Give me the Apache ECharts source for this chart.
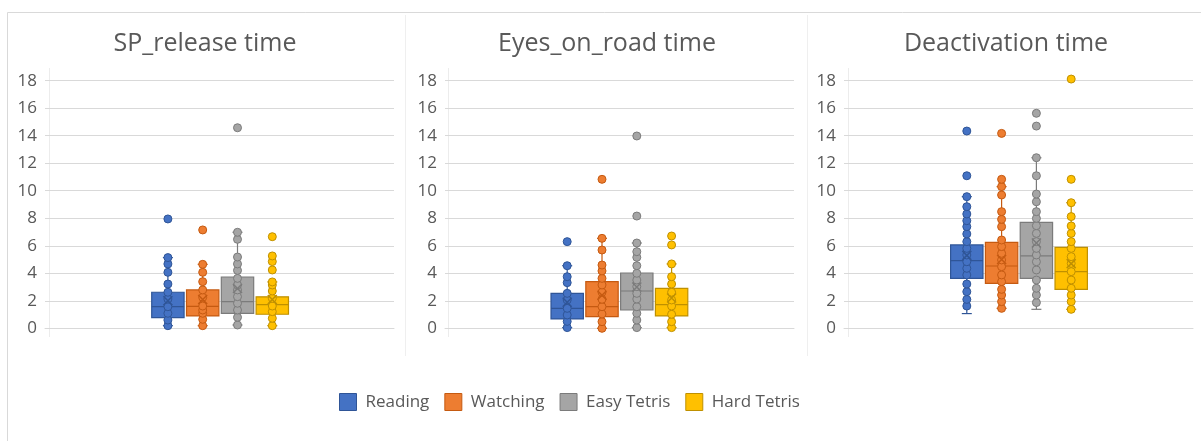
<!DOCTYPE html>
<html>
<head>
<meta charset="utf-8">
<title>Take-over times by secondary task</title>
<script src="https://cdn.jsdelivr.net/npm/echarts@6/dist/echarts.min.js"></script>
<style>
  html, body { margin: 0; padding: 0; background: #ffffff; }
  #chart { width: 1201px; height: 441px; }
</style>
</head>
<body>
<div id="chart"></div>
<script>
// Secondary-task conditions shown in every panel
const conditions = ['Reading', 'Watching', 'Easy Tetris', 'Hard Tetris'];
const panelTitles = ['SP_release time', 'Eyes_on_road time', 'Deactivation time'];
const yTicks = { min: 0, max: 18, interval: 2 };

// Box statistics per condition: [lower whisker, Q1, median, Q3, upper whisker] (s)
const spReleaseBoxes = [
  [0.19, 0.78, 1.57, 2.62, 5.14],
  [0.19, 0.90, 1.60, 2.79, 4.65],
  [0.24, 1.09, 1.94, 3.73, 6.98],
  [0.19, 1.02, 1.72, 2.29, 3.37]
];
const spReleaseMeans = [2.0, 2.1, 2.9, 2.1];
const spReleasePoints = [
  [0.19, 0.6, 1.09, 1.57, 2.13, 2.62, 3.22, 4.07, 4.68, 5.14, 7.95],
  [0.19, 0.65, 1.09, 1.33, 1.62, 2.25, 2.79, 3.39, 4.07, 4.65, 7.15],
  [0.24, 0.8, 1.33, 1.82, 2.3, 2.79, 3.15, 3.63, 4.21, 4.68, 5.18, 6.47, 6.98, 14.58],
  [0.19, 0.73, 1.21, 1.62, 2.18, 2.71, 3.15, 3.37, 4.24, 4.85, 5.26, 6.66]
];

const eyesOnRoadBoxes = [
  [0.05, 0.68, 1.45, 2.54, 4.55],
  [0.0, 0.85, 1.57, 3.39, 6.54],
  [0.05, 1.33, 2.71, 4.02, 6.2],
  [0.05, 0.9, 1.72, 2.9, 4.68]
];
const eyesOnRoadMeans = [1.9, 2.4, 3.0, 2.2];
const eyesOnRoadPoints = [
  [0.05, 0.5, 0.97, 1.45, 2.06, 2.54, 3.32, 3.75, 4.55, 6.3],
  [0.0, 0.48, 1.04, 1.57, 2.11, 2.62, 3.15, 3.63, 4.17, 4.6, 5.69, 6.54, 10.83],
  [0.05, 0.6, 1.09, 1.57, 2.13, 2.54, 3.03, 3.51, 4.0, 4.55, 5.16, 5.57, 6.2, 8.16, 13.98],
  [0.05, 0.48, 1.02, 1.62, 2.06, 2.62, 3.22, 3.75, 4.68, 6.06, 6.71]
];

const deactivationBoxes = [
  [1.07, 3.63, 4.92, 6.06, 9.57],
  [1.45, 3.27, 4.53, 6.25, 10.3],
  [1.38, 3.63, 5.26, 7.7, 12.4],
  [1.38, 2.83, 4.12, 5.89, 9.13]
];
const deactivationMeans = [5.3, 5.0, 6.2, 4.7];
const deactivationPoints = [
  [1.62, 2.1, 2.66, 3.22, 3.88, 4.36, 4.84, 5.33, 5.81, 6.3, 6.86, 7.39, 7.82, 8.31, 8.84, 9.57, 11.09, 14.34],
  [1.45, 1.94, 2.42, 2.83, 3.39, 3.88, 4.48, 4.97, 5.45, 5.94, 6.42, 7.39, 7.92, 8.48, 9.69, 10.3, 10.83, 14.17],
  [1.87, 2.42, 2.91, 3.51, 4.24, 4.84, 5.33, 5.81, 6.3, 6.9, 7.46, 7.99, 8.48, 9.2, 9.76, 11.09, 12.4, 14.7, 15.63],
  [1.38, 1.94, 2.42, 2.91, 3.51, 4.12, 4.72, 5.21, 5.81, 6.3, 6.9, 7.44, 8.12, 9.13, 10.83, 18.12]
];

const panels = [
  { title: panelTitles[0], boxes: spReleaseBoxes, means: spReleaseMeans, points: spReleasePoints },
  { title: panelTitles[1], boxes: eyesOnRoadBoxes, means: eyesOnRoadMeans, points: eyesOnRoadPoints },
  { title: panelTitles[2], boxes: deactivationBoxes, means: deactivationMeans, points: deactivationPoints }
];

// Styling and layout
const fillColors = ['#4472C4', '#ED7D31', '#A5A5A5', '#FFC000'];
const edgeColors = ['#2F5597', '#C55A11', '#7B7B7B', '#BF9000'];
const textColor = '#595959';
const gridColor = '#d9d9d9';
const plotTop = 80.7, plotHeight = 247.6;
const frameLeft = [45, 445, 844];
const frameWidth = 349;
const groupCenter = [220.1, 619.4, 1019.0];
const boxPitch = 34.8;
const titleCenter = [200, 602, 1001];
const xMarker = 'path://M0,0 L10,10 M10,0 L0,10';

function renderBox(params, api) {
  const c = api.value(0);
  const lo = api.coord([c, api.value(1)]);
  const q1 = api.coord([c, api.value(2)]);
  const md = api.coord([c, api.value(3)]);
  const q3 = api.coord([c, api.value(4)]);
  const hi = api.coord([c, api.value(5)]);
  const band = api.size([1, 0])[0];
  const half = band * 0.465;
  const cap = 5;
  const x = lo[0];
  const fill = api.style().fill;
  const edge = edgeColors[conditions.indexOf(params.seriesName)];
  const line = { stroke: edge, lineWidth: 1.2 };
  return {
    type: 'group',
    children: [
      { type: 'line', shape: { x1: x, y1: q3[1], x2: x, y2: hi[1] }, style: line },
      { type: 'line', shape: { x1: x, y1: q1[1], x2: x, y2: lo[1] }, style: line },
      { type: 'line', shape: { x1: x - cap, y1: hi[1], x2: x + cap, y2: hi[1] }, style: line },
      { type: 'line', shape: { x1: x - cap, y1: lo[1], x2: x + cap, y2: lo[1] }, style: line },
      { type: 'rect', shape: { x: x - half, y: q3[1], width: half * 2, height: q1[1] - q3[1] },
        style: { fill: fill, stroke: edge, lineWidth: 1.2 } },
      { type: 'line', shape: { x1: x - half, y1: md[1], x2: x + half, y2: md[1] }, style: line }
    ]
  };
}

const grid = [], xAxis = [], yAxis = [], title = [], series = [];

panels.forEach(function (panel, p) {
  // full-width frame carrying the value axis and gridlines
  grid.push({ left: frameLeft[p], width: frameWidth, top: plotTop, height: plotHeight });
  // narrow band holding the four boxes side by side
  grid.push({ left: groupCenter[p] - 2 * boxPitch, width: 4 * boxPitch, top: plotTop, height: plotHeight });

  xAxis.push({
    gridIndex: 2 * p, type: 'category', data: [''],
    axisLine: { lineStyle: { color: gridColor } },
    axisTick: { show: false }, axisLabel: { show: false }
  });
  xAxis.push({ gridIndex: 2 * p + 1, type: 'category', data: conditions, show: false });

  yAxis.push({
    gridIndex: 2 * p, type: 'value', min: yTicks.min, max: yTicks.max, interval: yTicks.interval,
    axisLine: { show: false }, axisTick: { show: false },
    axisLabel: { color: textColor, fontSize: 17, margin: 8, fontFamily: 'Open Sans' },
    splitLine: { lineStyle: { color: gridColor, width: 1 } }
  });
  yAxis.push({ gridIndex: 2 * p + 1, type: 'value', min: yTicks.min, max: yTicks.max, show: false });

  title.push({
    text: panel.title, left: titleCenter[p], top: 26, textAlign: 'center',
    textStyle: { color: textColor, fontSize: 25, fontWeight: 'normal', fontFamily: 'Open Sans' }
  });

  conditions.forEach(function (name, c) {
    series.push({
      type: 'custom', name: name, xAxisIndex: 2 * p + 1, yAxisIndex: 2 * p + 1,
      itemStyle: { color: fillColors[c] },
      data: [[c].concat(panel.boxes[c])],
      renderItem: renderBox, z: 2, clip: false
    });
    series.push({
      type: 'scatter', name: name, xAxisIndex: 2 * p + 1, yAxisIndex: 2 * p + 1,
      symbol: 'circle', symbolSize: 8, clip: false,
      itemStyle: { color: fillColors[c], borderColor: edgeColors[c], borderWidth: 1, opacity: 1 },
      data: panel.points[c].map(function (v) { return [c, v]; }), z: 3
    });
    series.push({
      type: 'scatter', name: name, xAxisIndex: 2 * p + 1, yAxisIndex: 2 * p + 1,
      symbol: xMarker, symbolSize: 9, clip: false,
      itemStyle: { color: 'rgba(0,0,0,0)', borderColor: edgeColors[c], borderWidth: 1.5, opacity: 1 },
      data: [[c, panel.means[c]]], z: 4
    });
  });
});

const option = {
  animation: false,
  backgroundColor: '#ffffff',
  title: title,
  grid: grid,
  xAxis: xAxis,
  yAxis: yAxis,
  legend: {
    left: 334, top: 388,
    itemWidth: 17, itemHeight: 17, itemGap: 15,
    textStyle: { color: textColor, fontSize: 17, fontFamily: 'Open Sans', padding: [0, 0, 0, 4] },
    data: conditions.map(function (name, c) {
      return { name: name, icon: 'rect',
        itemStyle: { color: fillColors[c], borderColor: edgeColors[c], borderWidth: 1 } };
    })
  },
  graphic: [
    { type: 'line', shape: { x1: 7.5, y1: 12.5, x2: 1201, y2: 12.5 }, style: { stroke: '#d9d9d9', lineWidth: 1 }, silent: true },
    { type: 'line', shape: { x1: 7.5, y1: 12.5, x2: 7.5, y2: 441 }, style: { stroke: '#d9d9d9', lineWidth: 1 }, silent: true },
    { type: 'line', shape: { x1: 405.5, y1: 15, x2: 405.5, y2: 356 }, style: { stroke: '#efefef', lineWidth: 1 }, silent: true },
    { type: 'line', shape: { x1: 807.5, y1: 15, x2: 807.5, y2: 356 }, style: { stroke: '#efefef', lineWidth: 1 }, silent: true },
    { type: 'line', shape: { x1: 49.5, y1: 68, x2: 49.5, y2: 337 }, style: { stroke: '#ececec', lineWidth: 1 }, silent: true },
    { type: 'line', shape: { x1: 448.5, y1: 68, x2: 448.5, y2: 337 }, style: { stroke: '#ececec', lineWidth: 1 }, silent: true },
    { type: 'line', shape: { x1: 848.5, y1: 68, x2: 848.5, y2: 337 }, style: { stroke: '#ececec', lineWidth: 1 }, silent: true }
  ],
  series: series
};

const chart = echarts.init(document.getElementById('chart'), null, { renderer: 'canvas' });
chart.setOption(option);
</script>
</body>
</html>
